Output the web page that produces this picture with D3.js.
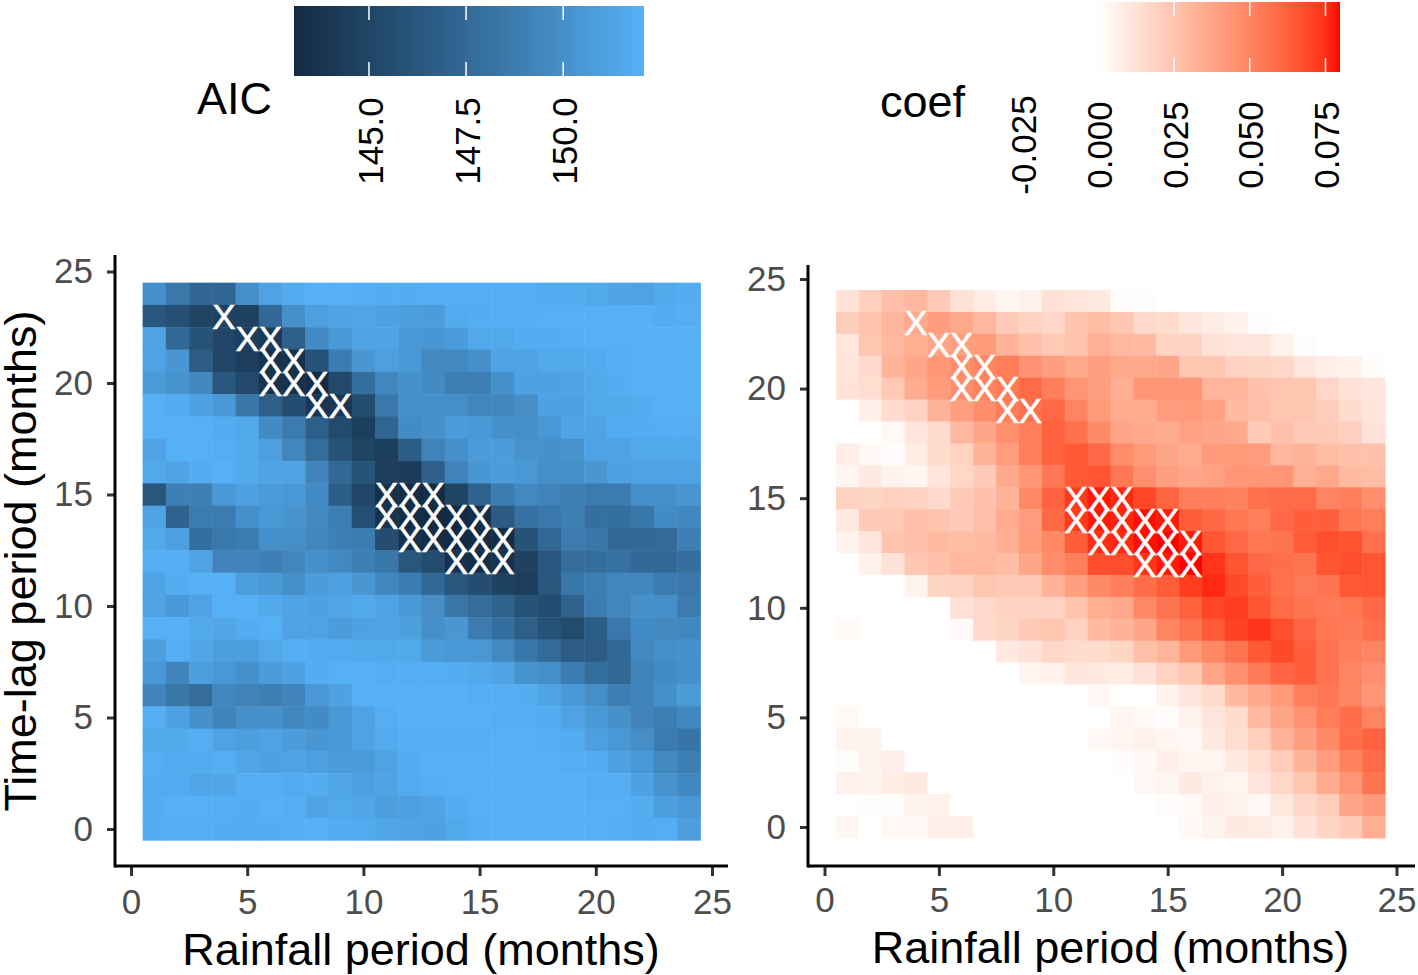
<!DOCTYPE html>
<html>
<head>
<meta charset="utf-8">
<script src="https://d3js.org/d3.v7.min.js"></script>
<style>
    html, body { margin: 0; padding: 0; background: #fff; }
    svg { display: block; }
    text { font-family: "Liberation Sans", Arial, sans-serif; }
</style>
</head>
<body>
<div id="viz"></div>
<script>
// rainfall period = columns, time lag = rows (first row is lag 24, last is lag 0)
const rainfallPeriods = d3.range(1, 25);
const timeLags = d3.range(24, -1, -1);
const axisTicks = [0, 5, 10, 15, 20, 25];

const aicValues = [
    [150.0,148.5,147.3,147.3,150.0,151.2,151.7,152,152,151.9,151.8,151.8,151.9,151.9,151.9,151.9,151.9,151.7,151.7,151.6,151.3,151.2,151.6,151.8],
    [146.3,145.7,144.9,144.8,144.8,147.5,150.0,151.0,151.3,151.4,151.1,150.9,150.8,151.7,151.8,151.9,151.9,152,152,152,152,152,151.8,151.9],
    [151.2,147.5,146.0,145.0,144.5,144.2,146.8,149.7,150.6,151.3,151.3,150.6,150.4,150.8,151.5,151.5,151.8,151.8,151.9,152,152,152,152,152],
    [151.2,150.4,146.6,145.1,144.5,143.6,143.5,145.9,148.8,150.4,151.0,150.6,149.6,149.6,150.0,151.3,151.2,151.6,151.6,151.7,151.9,152,152,152],
    [150.7,150.2,149.5,146.3,145.3,143.7,143.5,143.2,145.2,147.8,149.4,150.1,149.7,148.9,149.0,150.0,151.1,151.1,151.3,151.6,151.8,152,152,152],
    [152,151.8,151.1,150.6,148.4,146.8,145.6,144.0,144.0,145.5,148.5,150.0,150.0,149.9,149.4,149.4,149.9,151.1,151.1,151.5,151.6,151.8,152,152],
    [152,152,152,151.8,151.5,149.7,148.7,146.8,145.4,144.6,147.2,149.7,150.1,150.8,150.6,150.1,150.0,150.5,151.3,151.3,151.7,151.8,151.9,151.9],
    [151.3,152,152,151.9,151.6,151.0,149.4,147.7,146.0,144.9,144.4,146.7,149.2,150.0,150.7,150.8,150.2,150.1,150.2,151.2,151.2,151.5,151.5,151.5],
    [151.5,151.3,151.8,152,151.6,151.3,151.2,149.3,147.4,146.0,144.6,144.3,146.9,149.3,150.4,150.8,150.5,149.9,149.9,150.4,151.1,151.2,151.2,151.2],
    [146.2,149.0,149.0,150.6,151.1,150.7,150.5,149.7,146.7,145.0,143.5,143.2,143.2,144.9,147.1,148.8,149.6,149.3,148.9,148.7,148.7,150.1,150.0,150.4],
    [151.2,147.0,148.7,148.7,150.0,150.5,150.2,149.6,148.9,145.7,143.7,143.3,143.1,143.1,143.4,146.5,148.0,148.5,148.9,147.9,147.9,148.4,149.7,149.5],
    [151.5,151.0,147.9,148.5,148.8,150.0,149.9,149.4,149.0,148.8,145.6,143.6,143.2,143.1,143.0,143.3,146.0,147.4,148.7,148.4,147.4,147.4,147.6,149.0],
    [151.9,151.9,151.2,149.3,149.3,149.0,149.4,150.0,149.6,148.9,148.4,146.2,145.5,143.6,143.4,143.6,144.8,146.3,147.8,147.8,148.0,147.5,147.4,147.9],
    [151.3,151.8,152,152,150.9,150.6,150.0,150.8,151.0,150.4,149.4,148.8,147.4,146.2,145.6,144.8,144.4,146.2,148.4,148.9,149.4,149.4,148.7,148.5],
    [151.2,150.6,151.2,152,152,151.6,151.2,151.1,151.4,151.5,151.2,150.6,149.9,148.4,147.7,147.0,146.0,145.6,147.0,148.8,149.4,150.1,149.9,148.7],
    [152,152,151.5,151.4,151.8,152,151.2,151.2,150.8,151.1,151.3,150.9,150.0,150.4,148.7,147.8,146.8,145.9,145.4,146.7,148.5,149.7,149.6,149.4],
    [150.9,151.9,151.4,150.9,150.9,151.5,151.9,151.8,151.7,151.6,151.5,151.5,150.7,150.5,150.5,149.6,148.4,147.6,146.6,146.6,147.5,149.6,149.9,150.1],
    [150.5,149.3,150.9,150.5,150.0,150.8,151.1,151.8,152,152,151.9,151.9,151.9,151.8,151.5,151.3,150.2,149.9,148.8,147.8,147.4,149.2,149.7,150.0],
    [149.3,148.4,147.7,149.5,149.2,148.9,149.3,150.5,151.1,152,152,152,152,152,151.9,151.9,151.8,151.2,150.6,149.9,148.9,149.3,150.0,150.7],
    [151.9,151.1,150.1,149.3,150.1,150.1,149.5,149.7,150.6,151.2,151.9,152,152,152,152,151.9,151.9,151.8,151.2,150.6,150.1,149.3,148.9,149.5],
    [151.6,151.6,151.9,151.2,150.9,151.2,150.8,150.4,150.6,151.2,151.7,151.9,151.9,151.9,151.9,152,152,151.9,151.8,151.0,150.5,149.9,148.7,148.3],
    [151.9,151.7,151.7,151.9,151.4,151.1,151.3,151.0,150.7,150.7,151.2,151.8,152,152,152,152,152,152,151.9,151.8,151.1,150.5,149.6,148.9],
    [151.7,151.7,151.4,151.4,151.9,151.9,151.7,151.8,151.4,151.0,151.3,151.7,151.9,152,152,152,152,152,152,151.9,151.9,151.1,150.2,149.5],
    [151.8,152,152,151.9,151.8,152,151.9,151.3,151.5,151.4,150.9,151.0,151.3,151.8,152,152,152,152,152,152,152,151.8,150.9,150.5],
    [151.8,151.9,151.9,151.8,151.8,151.8,151.9,152,151.8,151.7,151.4,151.2,151.1,151.5,151.9,152,152,152,152,152,151.9,151.8,151.9,150.9]
];

const coefValues = [
    [.012,.020,.027,.030,.022,.012,.008,.004,.006,.013,.011,.009,.001,.001,-.003,-.005,-.005,-.005,-.005,-.005,-.005,-.005,-.005,-.005],
    [.021,.025,.031,.036,.041,.036,.030,.022,.019,.017,.025,.028,.024,.016,.015,.011,.008,.006,.001,-.002,-.005,-.005,-.005,-.005],
    [.010,.024,.030,.034,.038,.040,.042,.032,.027,.023,.025,.033,.030,.029,.019,.019,.012,.011,.011,.006,.001,.000,-.002,-.005],
    [.011,.016,.032,.037,.043,.047,.050,.053,.045,.040,.036,.040,.036,.036,.037,.024,.024,.019,.018,.017,.010,.007,.006,.001],
    [.012,.014,.023,.035,.042,.047,.051,.054,.059,.052,.044,.040,.034,.043,.044,.044,.031,.031,.026,.024,.024,.017,.012,.011],
    [.000,.007,.015,.019,.032,.040,.047,.053,.057,.060,.050,.042,.035,.035,.041,.042,.039,.029,.027,.024,.024,.021,.015,.011],
    [-.003,-.002,.003,.011,.015,.030,.037,.046,.052,.062,.057,.048,.038,.036,.035,.039,.037,.036,.022,.026,.022,.022,.020,.012],
    [.007,.003,.001,.008,.015,.019,.032,.041,.052,.062,.065,.060,.047,.042,.037,.035,.042,.042,.041,.030,.032,.028,.026,.026],
    [.004,.009,.005,.004,.011,.017,.022,.036,.043,.055,.065,.066,.055,.046,.040,.037,.039,.043,.043,.044,.033,.036,.029,.028],
    [.019,.018,.020,.019,.016,.022,.026,.032,.049,.062,.073,.078,.076,.070,.061,.053,.052,.051,.057,.059,.059,.050,.053,.046],
    [.009,.022,.023,.027,.025,.022,.027,.035,.041,.060,.073,.078,.077,.079,.078,.064,.060,.055,.053,.060,.063,.063,.055,.053],
    [.005,.011,.025,.027,.029,.028,.029,.034,.042,.049,.064,.075,.076,.079,.080,.078,.066,.060,.055,.056,.064,.068,.067,.057],
    [.000,.006,.012,.024,.026,.030,.030,.028,.037,.047,.052,.068,.068,.074,.078,.080,.074,.066,.060,.058,.056,.066,.068,.066],
    [-.005,-.005,-.005,.005,.018,.019,.024,.023,.023,.032,.040,.048,.052,.058,.064,.072,.076,.069,.063,.057,.054,.056,.065,.066],
    [-.005,-.005,-.005,-.005,.000,.013,.016,.019,.019,.019,.025,.034,.036,.049,.056,.062,.070,.072,.066,.059,.056,.054,.055,.060],
    [.002,-.005,-.005,-.005,-.005,.002,.016,.018,.023,.024,.019,.029,.032,.037,.050,.056,.065,.071,.074,.068,.061,.055,.054,.057],
    [-.005,-.005,-.005,-.005,-.005,-.005,-.005,.009,.012,.017,.015,.015,.018,.027,.031,.042,.049,.056,.065,.069,.063,.056,.052,.050],
    [-.005,-.005,-.005,-.005,-.005,-.005,-.005,-.005,.004,.006,.011,.009,.008,.012,.019,.024,.038,.046,.054,.061,.063,.056,.050,.046],
    [-.005,-.005,-.005,-.005,-.005,-.005,-.005,-.005,-.005,-.005,-.005,.003,.000,-.002,.005,.011,.015,.029,.036,.042,.052,.055,.050,.043],
    [.003,-.005,-.005,-.005,-.005,-.005,-.005,-.005,-.005,-.005,-.005,-.001,.004,.002,.001,.005,.011,.015,.029,.037,.045,.053,.058,.050],
    [.005,.005,-.005,-.005,-.005,-.005,-.005,-.005,-.005,-.005,-.005,.003,.004,.006,.004,.003,.009,.014,.020,.032,.040,.048,.058,.062],
    [.001,.005,.007,-.005,-.005,-.005,-.005,-.005,-.005,-.005,-.005,.000,.001,.003,.007,.004,.004,.009,.014,.021,.032,.041,.051,.059],
    [.006,.005,.008,.009,.000,-.005,-.005,-.005,-.005,-.005,-.005,-.005,-.005,.003,.004,.009,.006,.004,.011,.017,.024,.035,.044,.056],
    [-.001,.001,.001,.005,.006,-.005,-.005,-.005,-.005,-.005,-.005,-.005,-.005,-.005,.001,.002,.007,.005,.003,.010,.017,.021,.037,.042],
    [.004,-.002,.003,.003,.007,.007,-.005,-.005,-.005,-.005,-.005,-.005,-.005,-.005,-.005,.003,.005,.009,.008,.006,.012,.018,.022,.034]
];

// best models, marked with a white X on both panels
const bestPeriods = [4, 5, 6, 6, 7, 6, 7, 8, 8, 9, 11, 12, 13, 11, 12, 13, 14, 15, 12, 13, 14, 15, 16, 14, 15, 16];
const bestLags = [23, 22, 22, 21, 21, 20, 20, 20, 19, 19, 15, 15, 15, 14, 14, 14, 14, 14, 13, 13, 13, 13, 13, 12, 12, 12];

const aicLegendTicks = [145, 147.5, 150];
const coefLegendTicks = [-0.025, 0, 0.025, 0.05, 0.075];

let aicColor = d3.scaleLinear()
    .domain([143.07, 152.08])
    .range(['#132B43', '#56B1F7'])
    .interpolate(d3.interpolateLab)
    .clamp(true);

let coefColor = d3.scaleLinear()
    .domain([0, 0.0798])
    .range(['#FFFFFF', '#FF0000'])
    .interpolate(d3.interpolateLab)
    .clamp(true);

let svg = d3.select('#viz')
    .append('svg')
    .attr('width', 1418)
    .attr('height', 975);

function drawPanel(p) {
    let xScale = d3.scaleLinear().domain([0, 25]).range([p.x0, p.x25]);
    let yScale = d3.scaleLinear().domain([0, 25]).range([p.y0, p.y25]);
    let cellW = xScale(1) - xScale(0);
    let cellH = yScale(0) - yScale(1);

    let cells = [];
    p.values.forEach((row, r) => {
        row.forEach((v, c) => {
            cells.push({ period: rainfallPeriods[c], lag: timeLags[r], value: v });
        });
    });

    let g = svg.append('g');

    g.append('g')
        .selectAll('rect').data(cells)
        .enter()
        .append('rect')
        .attr('x', d => xScale(d.period - .5))
        .attr('y', d => yScale(d.lag + .5))
        .attr('width', cellW + .5)
        .attr('height', cellH + .5)
        .attr('fill', d => p.color(d.value));

    g.append('g')
        .selectAll('text').data(bestPeriods)
        .enter()
        .append('text')
        .attr('x', d => xScale(d))
        .attr('y', (d, i) => yScale(bestLags[i]))
        .attr('dy', '.36em')
        .attr('text-anchor', 'middle')
        .attr('fill', '#fff')
        .attr('stroke', '#fff')
        .attr('stroke-width', .6)
        .style('font-size', '35px')
        .text('X');

    let xAxis = g.append('g')
        .attr('transform', 'translate(0,' + p.axisY + ')')
        .call(d3.axisBottom(xScale).tickValues(axisTicks).tickSize(10).tickPadding(p.xPad));
    let yAxis = g.append('g')
        .attr('transform', 'translate(' + p.axisX + ',0)')
        .call(d3.axisLeft(yScale).tickValues(axisTicks).tickSize(8).tickPadding(14));

    [xAxis, yAxis].forEach(a => {
        a.selectAll('.tick line').attr('stroke', '#333').attr('stroke-width', 3);
        a.selectAll('.tick text').attr('fill', '#4D4D4D').style('font-size', '35px');
        a.select('.domain').remove();
    });

    g.append('line')
        .attr('x1', p.axisX).attr('x2', p.axisX)
        .attr('y1', p.axisTop).attr('y2', p.axisY + 1.5)
        .attr('stroke', '#000').attr('stroke-width', 3);
    g.append('line')
        .attr('x1', p.axisX).attr('x2', p.axisRight)
        .attr('y1', p.axisY).attr('y2', p.axisY)
        .attr('stroke', '#000').attr('stroke-width', 3);

    g.append('text')
        .attr('x', p.titleX)
        .attr('y', p.titleY)
        .attr('text-anchor', 'middle')
        .attr('fill', '#000')
        .style('font-size', '45px')
        .text('Rainfall period (months)');
}

drawPanel({
    values: aicValues, color: aicColor,
    x0: 131, x25: 712, y0: 829, y25: 271.5,
    axisX: 115, axisY: 866, axisTop: 255, axisRight: 728, xPad: 13,
    titleX: 421, titleY: 965
});

drawPanel({
    values: coefValues, color: coefColor,
    x0: 824.5, x25: 1396.5, y0: 827, y25: 279,
    axisX: 808, axisY: 866, axisTop: 265, axisRight: 1415, xPad: 11,
    titleX: 1110.5, titleY: 963
});

svg.append('text')
    .attr('transform', 'translate(36,561) rotate(-90)')
    .attr('text-anchor', 'middle')
    .attr('fill', '#000')
    .style('font-size', '45px')
    .text('Time-lag period (months)');

function drawLegend(l) {
    let scale = d3.scaleLinear().domain(l.domain).range(l.range);
    let stops = d3.range(0, 1.001, .02);

    let grad = svg.append('defs')
        .append('linearGradient')
        .attr('id', l.id);
    grad.selectAll('stop').data(stops)
        .enter()
        .append('stop')
        .attr('offset', d => d)
        .attr('stop-color', d => l.color(l.domain[0] + d * (l.domain[1] - l.domain[0])));

    svg.append('rect')
        .attr('x', l.range[0])
        .attr('y', l.top)
        .attr('width', l.range[1] - l.range[0])
        .attr('height', 70)
        .attr('fill', 'url(#' + l.id + ')');

    l.ticks.forEach(t => {
        [[l.top, l.top + 14], [l.top + 56, l.top + 70]].forEach(seg => {
            svg.append('line')
                .attr('x1', scale(t)).attr('x2', scale(t))
                .attr('y1', seg[0]).attr('y2', seg[1])
                .attr('stroke', '#fff')
                .attr('stroke-width', 1.5);
        });
        svg.append('text')
            .attr('transform', 'translate(' + (scale(t) + 1) + ',' + l.labelY + ') rotate(-90)')
            .attr('dy', '.36em')
            .attr('text-anchor', 'middle')
            .attr('fill', '#000')
            .style('font-size', '35px')
            .text(l.format(t).replace('\u2212', '-'));
    });

    svg.append('text')
        .attr('x', l.titleX)
        .attr('y', l.titleY)
        .attr('fill', '#000')
        .style('font-size', '45px')
        .text(l.title);
}

drawLegend({
    id: 'aicGrad', title: 'AIC', color: aicColor, ticks: aicLegendTicks,
    domain: [143.07, 152.08], range: [294, 644], top: 6,
    format: d3.format('.1f'), labelY: 141, titleX: 197, titleY: 114
});

drawLegend({
    id: 'coefGrad', title: 'coef', color: coefColor, ticks: coefLegendTicks,
    domain: [-0.0358, 0.0798], range: [990, 1340], top: 2,
    format: d3.format('.3f'), labelY: 145, titleX: 880, titleY: 117
});
</script>
</body>
</html>
